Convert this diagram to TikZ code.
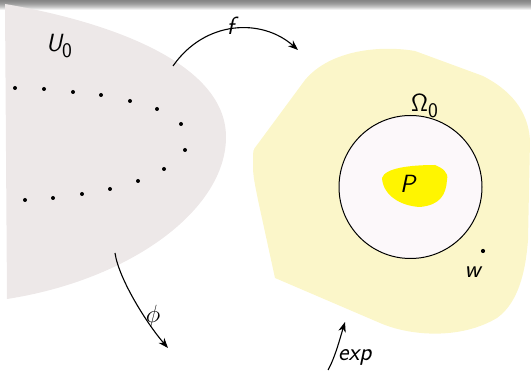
\documentclass[tikz,border=0pt]{standalone}
\usetikzlibrary{arrows.meta}
\DeclareMathAlphabet{\mathsfit}{OT1}{cmss}{m}{sl}
\definecolor{graybg}{RGB}{237,232,232}
\definecolor{yellowbg}{RGB}{251,246,201}
\definecolor{diskfill}{RGB}{252,248,250}
\definecolor{pyellow}{RGB}{255,245,0}
\tikzset{
  lbl/.style={inner sep=0pt, font=\fontsize{28}{33}\selectfont},
  maparrow/.style={line width=1.1pt, -{Stealth[length=10pt,width=7.5pt,inset=3pt]}},
  dotmark/.style={fill=black, circle, inner sep=0pt, minimum size=4pt},
  wdot/.style={fill=black, circle, inner sep=0pt, minimum size=4.2pt},
}
\begin{document}
\begin{tikzpicture}[x=1pt,y=-1pt]
\useasboundingbox (0,0) rectangle (531,371);
% top bar
\foreach \i/\g in {0/48,1/46,2/43,3/40,4/36,5/31,6/26,7/20,8/13,9/6}
  \fill[black!\g] (0,\i) rectangle (531,\i+1);
% left region U0
\fill[graybg] (5,4) .. controls (100,20) and (226,60) .. (226,137)
  .. controls (226,210) and (130,280) .. (7,299) -- cycle;
% dots
\foreach \p [count=\k] in {(15,88),(44,89),(73,92),(101,95),(130,101),(157,109),(181,124),(185,150),(164,169),(138,181),(110,189),(82,194),(53,198),(25,200)}
  \node[dotmark] (d\k) at \p {};
% right region
\fill[yellowbg] (253,160) .. controls (253,175) .. (258,200) -- (275,278) -- (380,323)
  .. controls (410,336) and (460,340) .. (497,318)
  .. controls (515,305) and (525,280) .. (528,240) -- (530,140)
  .. controls (528,110) and (510,90) .. (483,76) -- (415,51)
  .. controls (380,45) and (330,50) .. (305,80) -- (257,145)
  .. controls (253,150) .. cycle;
% disk
\node[draw=black, line width=1pt, fill=diskfill, circle, minimum size=143pt, inner sep=0pt] (disk) at (410.5,187) {};
% P blob
\fill[pyellow] (382,178) .. controls (385,168) and (410,165) .. (435,165)
  .. controls (442,168) and (449,172) .. (447,180)
  .. controls (446,195) and (440,205) .. (420,207)
  .. controls (400,206) and (383,195) .. (382,178) -- cycle;
% labels
\node[lbl, anchor=base west] (U) at (46,52) {$\mathsfit{U}_{\mathsf{0}}$};
\node[lbl, anchor=base west] (Om) at (411,112) {$\mathsf{\Omega}_{\mathsf{0}}$};
\node[lbl, anchor=base west] (P) at (400,193) {$\mathsfit{P}$};
\node[wdot] (w) at (483,251) {};
\node[lbl, anchor=base] (wl) at (474,278) {$\mathsfit{w}$};
% arrows
\coordinate (fs) at (173,66);
\coordinate (fe) at (298,50);
\draw[maparrow] (fs) .. controls (205,20) and (262,18) .. (fe);
\node[lbl, anchor=base] (fl) at (233,35) {$\mathsfit{f}$};
\coordinate (ps) at (115,253);
\coordinate (pe) at (168,348);
\draw[maparrow] (ps) .. controls (119,280) and (148,325) .. (pe);
\node[lbl] (phl) at (153,316) {$\phi$};
\coordinate (es) at (328,370);
\coordinate (ee) at (345,322);
\draw[maparrow] (es) .. controls (335,358) and (341,335) .. (ee);
\node[lbl, anchor=base west] (expl) at (338,361) {$\mathsfit{exp}$};
\end{tikzpicture}
\end{document}
